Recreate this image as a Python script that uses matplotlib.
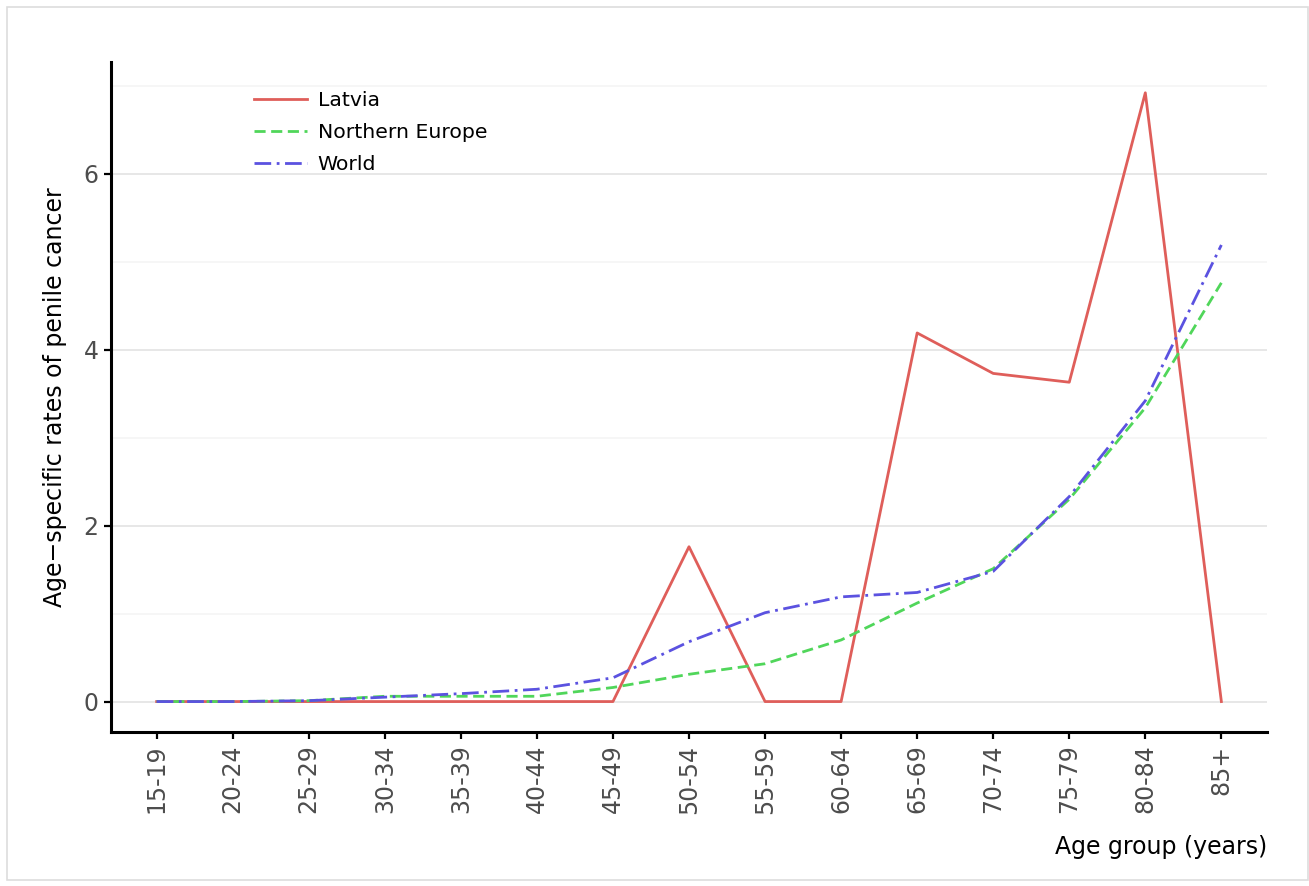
import matplotlib
matplotlib.use("Agg")
import matplotlib.pyplot as plt
from matplotlib.patches import Rectangle

# age groups and rates
age_groups = ["15-19", "20-24", "25-29", "30-34", "35-39", "40-44", "45-49",
              "50-54", "55-59", "60-64", "65-69", "70-74", "75-79", "80-84", "85+"]
latvia = [0, 0, 0, 0, 0, 0, 0, 1.76, 0, 0, 4.19, 3.73, 3.63, 6.92, 0]
northern_europe = [0, 0, 0.01, 0.06, 0.06, 0.06, 0.16, 0.31, 0.43, 0.70,
                   1.12, 1.51, 2.30, 3.34, 4.76]
world = [0, 0, 0.01, 0.05, 0.09, 0.14, 0.27, 0.68, 1.01, 1.19,
         1.24, 1.48, 2.33, 3.42, 5.19]

fig = plt.figure(figsize=(13.09, 8.86), dpi=100)
ax = fig.add_axes([111 / 1309, 1 - 732 / 886, (1267 - 111) / 1309, (732 - 62) / 886])

# light frame around the whole figure
fig.patches.append(Rectangle((7 / 1309, 6 / 886), 1301 / 1309, 873 / 886,
                             transform=fig.transFigure, fill=False,
                             edgecolor="#dddddd", linewidth=1.2))

x = list(range(len(age_groups)))
ax.plot(x, latvia, color="#DF5E5A", lw=2, label="Latvia")
ax.plot(x, northern_europe, color="#50D65A", lw=2, ls=(0, (4, 2)), label="Northern Europe")
ax.plot(x, world, color="#5B52E0", lw=2, ls=(0, (6, 2, 1, 2)), label="World")

ax.set_xlim(-0.6, 14.6)
ax.set_ylim(-0.346, 7.27)
ax.set_xticks(x)
ax.set_xticklabels(age_groups, rotation=90)
ax.set_yticks([0, 2, 4, 6])
ax.set_yticks([1, 3, 5, 7], minor=True)

ax.set_axisbelow(True)
ax.grid(axis="y", which="major", color="#e5e5e5", lw=1.3)
ax.grid(axis="y", which="minor", color="#f6f6f6", lw=1.3)
ax.grid(axis="x", visible=False)

for s in ["top", "right"]:
    ax.spines[s].set_visible(False)
for s in ["left", "bottom"]:
    ax.spines[s].set_linewidth(2.2)
    ax.spines[s].set_color("black")

ax.tick_params(axis="both", which="major", length=5, width=1.6, color="black",
               labelsize=17, labelcolor="#4d4d4d", pad=4)
ax.tick_params(axis="y", which="minor", length=0)

ax.set_xlabel("Age group (years)", fontsize=17, loc="right", labelpad=15)
ax.set_ylabel("Age\u2212specific rates of penile cancer", fontsize=17, labelpad=12)

ax.legend(loc="upper left", bbox_to_anchor=(0.108, 0.984), frameon=False,
          fontsize=14.7, handlelength=2.6, handletextpad=0.5, labelspacing=0.64)

fig.savefig("out.png", dpi=100)
